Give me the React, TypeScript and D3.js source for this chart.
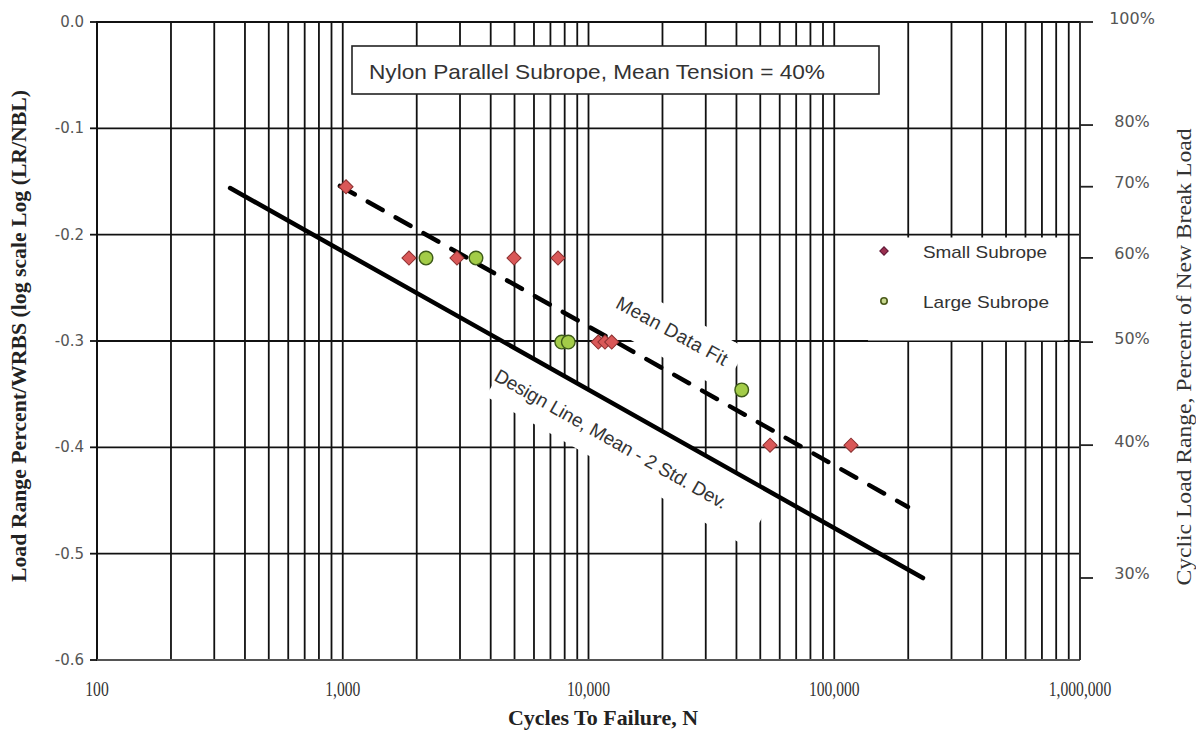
import React from 'react';
import * as d3 from 'd3';

const xTickValues = [100, 1000, 10000, 100000, 1000000];
const xTickLabels = ['100', '1,000', '10,000', '100,000', '1,000,000'];
const yTickValues = [0, -0.1, -0.2, -0.3, -0.4, -0.5, -0.6];
const yTickLabels = ['0.0', '-0.1', '-0.2', '-0.3', '-0.4', '-0.5', '-0.6'];
const rightPercents = [1.0, 0.8, 0.7, 0.6, 0.5, 0.4, 0.3];
const rightLabels = ['100%', '80%', '70%', '60%', '50%', '40%', '30%'];

const smallCycles = [1031, 1860, 2916, 4977, 7514, 10960, 11670, 12430, 54780, 117000];
const smallLogRange = [-0.155, -0.222, -0.222, -0.222, -0.222, -0.301, -0.301, -0.301, -0.398, -0.398];
const largeCycles = [2182, 3485, 7780, 8275, 42020];
const largeLogRange = [-0.222, -0.222, -0.301, -0.301, -0.346];

const meanFitCycles = [974, 199500];
const meanFitLog = [-0.1542, -0.4561];
const designCycles = [348, 229700];
const designLog = [-0.1561, -0.5229];

const W = 1196;
const H = 730;
const L = 97;
const R = 1080;
const T = 22;
const B = 660;

const SANS = '"Liberation Sans", Arial, sans-serif';
const SERIF = '"Liberation Serif", "Times New Roman", serif';
const TICKFONT = '"DejaVu Sans", Verdana, sans-serif';

export default function App() {
  const x = d3.scaleLog().domain([100, 1e6]).range([L, R]);
  const y = d3.scaleLinear().domain([-0.6, 0]).range([B, T]);

  const minor: number[] = [];
  for (let e = 2; e < 6; e++) {
    for (let k = 1; k <= 9; k++) minor.push(k * Math.pow(10, e));
  }
  minor.push(1e6);

  const line = d3
    .line<[number, number]>()
    .x((d) => x(d[0]))
    .y((d) => y(d[1]));

  const meanPts: [number, number][] = meanFitCycles.map((c, i) => [c, meanFitLog[i]]);
  const designPts: [number, number][] = designCycles.map((c, i) => [c, designLog[i]]);

  const gridColor = '#111';

  return (
    <svg
      width={W}
      height={H}
      style={{ position: 'absolute', left: 0, top: 0, background: '#fff' }}
    >
      <rect x={0} y={0} width={W} height={H} fill="#fff" />
      {minor.map((v, i) => (
        <line key={'v' + i} x1={x(v)} x2={x(v)} y1={T} y2={B} stroke={gridColor} strokeWidth={1.8} />
      ))}
      {yTickValues.map((v, i) => (
        <line key={'h' + i} x1={L} x2={R} y1={y(v)} y2={y(v)} stroke={gridColor} strokeWidth={1.8} />
      ))}

      <rect x={352} y={46} width={527} height={48} fill="#fff" stroke="#222" strokeWidth={1.6} />
      <text
        x={369}
        y={71}
        fontFamily={SANS}
        fontSize={21}
        fill="#333"
        dominantBaseline="central"
        textLength={456}
        lengthAdjust="spacingAndGlyphs"
      >
        Nylon Parallel Subrope, Mean Tension = 40%
      </text>

      <rect x={868} y={237.5} width={196} height={103} fill="#fff" />
      <rect x={-3} y={-3} width={6} height={6} transform="translate(884,251) rotate(45)" fill="#9a3050" stroke="#5a1030" strokeWidth={1} />
      <circle cx={884} cy={301} r={3.2} fill="#c8d890" stroke="#4a5a1a" strokeWidth={1.6} />
      <text x={923} y={252} fontFamily={SANS} fontSize={17} fill="#333" dominantBaseline="central" textLength={124} lengthAdjust="spacingAndGlyphs">
        Small Subrope
      </text>
      <text x={923} y={302} fontFamily={SANS} fontSize={17} fill="#333" dominantBaseline="central" textLength={126} lengthAdjust="spacingAndGlyphs">
        Large Subrope
      </text>

      <g transform="translate(668,333) rotate(28.5)">
        <rect x={-76} y={-24} width={152} height={48} fill="#fff" />
      </g>
      <g transform="translate(628,446) rotate(30)">
        <rect x={-148} y={-30} width={300} height={58} fill="#fff" />
      </g>

      <path d={line(designPts) || ''} fill="none" stroke="#000" strokeWidth={4.5} strokeLinecap="round" />
      <path
        d={line(meanPts) || ''}
        fill="none"
        stroke="#000"
        strokeWidth={4.5}
        strokeDasharray="17 15"
        strokeLinecap="round"
      />

      {smallCycles.map((c, i) => (
        <rect
          key={'s' + i}
          x={-5}
          y={-5}
          width={10}
          height={10}
          transform={`translate(${x(c)},${y(smallLogRange[i])}) rotate(45)`}
          fill="#d95858"
          stroke="#8a2f2f"
          strokeWidth={1}
        />
      ))}
      {largeCycles.map((c, i) => (
        <circle
          key={'l' + i}
          cx={x(c)}
          cy={y(largeLogRange[i])}
          r={6.8}
          fill="#a3cc48"
          stroke="#3d5a18"
          strokeWidth={1.4}
        />
      ))}

      <text
        transform="translate(672,331) rotate(28.5)"
        fontFamily={SANS}
        fontSize={19}
        fill="#333"
        textAnchor="middle"
        dominantBaseline="central"
        textLength={124}
        lengthAdjust="spacing"
      >
        Mean Data Fit
      </text>
      <text
        transform="translate(611,439) rotate(29.5)"
        fontFamily={SANS}
        fontSize={19}
        fill="#333"
        textAnchor="middle"
        dominantBaseline="central"
        textLength={264}
        lengthAdjust="spacing"
      >
        Design Line, Mean - 2 Std. Dev.
      </text>

      <line x1={L} x2={L} y1={T - 1} y2={B + 1} stroke="#111" strokeWidth={2} />
      <line x1={L} x2={R} y1={B} y2={B} stroke="#555" strokeWidth={2.2} />
      <line x1={R} x2={R} y1={T} y2={B} stroke="#333" strokeWidth={1.8} />
      {yTickValues.map((v, i) => (
        <g key={'yt' + i}>
          <line x1={L - 7} x2={L} y1={y(v)} y2={y(v)} stroke="#111" strokeWidth={1.8} />
          <text
            x={L - 13}
            y={y(v)}
            textAnchor="end"
            dominantBaseline="central"
            fontFamily={TICKFONT}
            fontSize={15}
            fill="#555"
          >
            {yTickLabels[i]}
          </text>
        </g>
      ))}
      {rightPercents.map((p, i) => (
        <g key={'rt' + i}>
          <line x1={R} x2={R + 13} y1={y(Math.log10(p))} y2={y(Math.log10(p))} stroke="#222" strokeWidth={1.8} />
          <text
            x={R + 52}
            y={y(Math.log10(p)) - 4}
            textAnchor="middle"
            dominantBaseline="central"
            fontFamily={TICKFONT}
            fontSize={16}
            fill="#555"
          >
            {rightLabels[i]}
          </text>
        </g>
      ))}
      {xTickValues.map((v, i) => (
        <g key={'xt' + i} transform={`translate(${x(v)},689) scale(0.78,1)`}>
          <text
            x={0}
            y={0}
            textAnchor="middle"
            dominantBaseline="central"
            fontFamily={SERIF}
            fontSize={20}
            fill="#333"
          >
            {xTickLabels[i]}
          </text>
        </g>
      ))}

      <text
        x={603}
        y={718}
        textAnchor="middle"
        dominantBaseline="central"
        fontFamily={SERIF}
        fontWeight="bold"
        fontSize={21}
        fill="#222"
        textLength={190}
        lengthAdjust="spacingAndGlyphs"
      >
        Cycles To Failure, N
      </text>
      <text
        transform="translate(19,336) rotate(-90)"
        textAnchor="middle"
        dominantBaseline="central"
        fontFamily={SERIF}
        fontWeight="bold"
        fontSize={20}
        fill="#222"
        textLength={492}
        lengthAdjust="spacingAndGlyphs"
      >
        Load Range Percent/WRBS (log scale Log (LR/NBL)
      </text>
      <text
        transform="translate(1184,357) rotate(-90)"
        textAnchor="middle"
        dominantBaseline="central"
        fontFamily={SERIF}
        fontSize={21}
        fill="#333"
        textLength={457}
        lengthAdjust="spacingAndGlyphs"
      >
        Cyclic Load Range, Percent of New Break Load
      </text>
    </svg>
  );
}
